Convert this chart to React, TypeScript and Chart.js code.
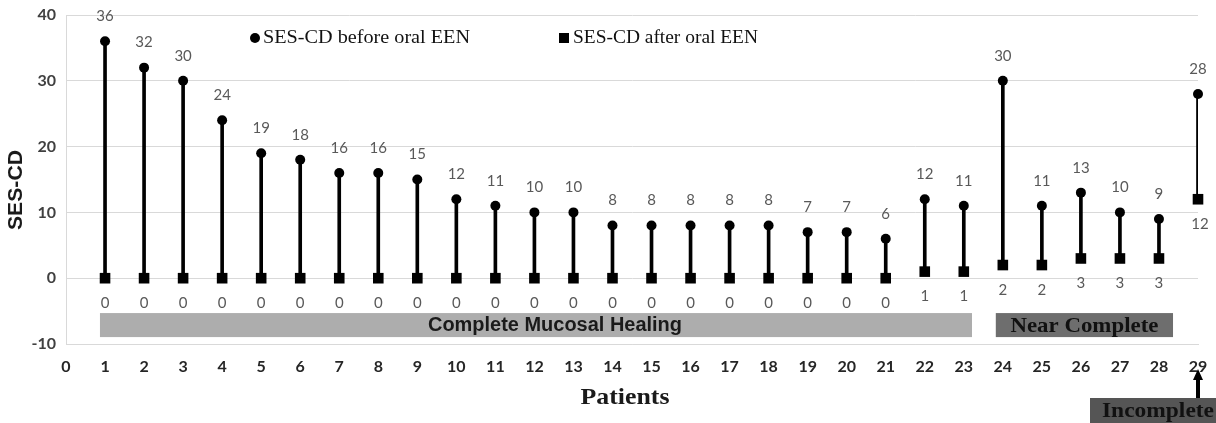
import React, { useEffect, useRef } from "react";
import { Chart, registerables } from "chart.js";

Chart.register(...registerables);

const patients = [1, 2, 3, 4, 5, 6, 7, 8, 9, 10, 11, 12, 13, 14, 15, 16, 17, 18, 19, 20, 21, 22, 23, 24, 25, 26, 27, 28, 29];
const beforeScores = [36, 32, 30, 24, 19, 18, 16, 16, 15, 12, 11, 10, 10, 8, 8, 8, 8, 8, 7, 7, 6, 12, 11, 30, 11, 13, 10, 9, 28];
const afterScores = [0, 0, 0, 0, 0, 0, 0, 0, 0, 0, 0, 0, 0, 0, 0, 0, 0, 0, 0, 0, 0, 1, 1, 2, 2, 3, 3, 3, 12];
const xTickValues = [0, 1, 2, 3, 4, 5, 6, 7, 8, 9, 10, 11, 12, 13, 14, 15, 16, 17, 18, 19, 20, 21, 22, 23, 24, 25, 26, 27, 28, 29];
const yTickValues = [-10, 0, 10, 20, 30, 40];
const seriesNames = ["SES-CD before oral EEN", "SES-CD after oral EEN"];
const groupNames = ["Complete Mucosal Healing", "Near Complete", "Incomplete"];
const axisTitles = { x: "Patients", y: "SES-CD" };

function fitText(ctx: CanvasRenderingContext2D, text: string, cx: number, cy: number, width: number) {
  const w = ctx.measureText(text).width;
  ctx.save();
  ctx.translate(cx, cy);
  ctx.scale(width / w, 1);
  ctx.textAlign = "center";
  ctx.textBaseline = "middle";
  ctx.fillText(text, 0, 0);
  ctx.restore();
}

const overlayPlugin = {
  id: "overlay",
  afterDatasetsDraw(chart: any) {
    const ctx: CanvasRenderingContext2D = chart.ctx;
    const xs = chart.scales.x;
    const ys = chart.scales.y;
    ctx.save();

    // value labels
    ctx.fillStyle = "#595959";
    ctx.font = "15px Lato";
    ctx.textAlign = "center";
    ctx.textBaseline = "middle";
    const mb = chart.getDatasetMeta(1);
    const ma = chart.getDatasetMeta(2);
    beforeScores.forEach((v, i) => {
      const el = mb.data[i];
      ctx.fillText(String(v), el.x, el.y - 25);
    });
    afterScores.forEach((v, i) => {
      const el = ma.data[i];
      ctx.fillText(String(v), el.x + (i === afterScores.length - 1 ? 2 : 0), el.y + 25);
    });

    // group bands (in data units)
    const band = (x0: number, x1: number, y0: number, y1: number, color: string) => {
      const px0 = xs.getPixelForValue(x0);
      const px1 = xs.getPixelForValue(x1);
      const py0 = ys.getPixelForValue(y0);
      const py1 = ys.getPixelForValue(y1);
      ctx.fillStyle = color;
      ctx.fillRect(px0, py0, px1 - px0, py1 - py0);
      return { px0, px1, py0, py1 };
    };
    const b1 = band(0.87, 23.21, -5.3, -8.95, "#adadad");
    ctx.fillStyle = "#1a1a1a";
    ctx.font = "bold 20px 'Liberation Sans'";
    fitText(ctx, groupNames[0], 555, (b1.py0 + b1.py1) / 2, 254);

    const b2 = band(23.82, 28.36, -5.3, -8.95, "#6e6e6e");
    ctx.fillStyle = "#111111";
    ctx.font = "bold 21px 'Liberation Serif'";
    fitText(ctx, groupNames[1], (b2.px0 + b2.px1) / 2, (b2.py0 + b2.py1) / 2 + 1, 148);

    // Incomplete box + arrow
    const x29 = xs.getPixelForValue(29);
    ctx.fillStyle = "#555555";
    ctx.fillRect(1090, 398, 130, 26);
    ctx.fillStyle = "#111111";
    ctx.font = "bold 21px 'Liberation Serif'";
    fitText(ctx, groupNames[2], 1158, 412, 112);
    ctx.strokeStyle = "#000";
    ctx.lineWidth = 4;
    ctx.beginPath();
    ctx.moveTo(x29, 398);
    ctx.lineTo(x29, 378);
    ctx.stroke();
    ctx.fillStyle = "#000";
    ctx.beginPath();
    ctx.moveTo(x29, 369);
    ctx.lineTo(x29 - 5, 380);
    ctx.lineTo(x29 + 5, 380);
    ctx.closePath();
    ctx.fill();

    // legend
    ctx.fillStyle = "#000";
    ctx.beginPath();
    ctx.arc(255, 38, 5, 0, Math.PI * 2);
    ctx.fill();
    ctx.fillRect(559, 33, 10, 10);
    ctx.font = "19px 'Liberation Serif'";
    ctx.fillStyle = "#111";
    fitText(ctx, seriesNames[0], (263 + 470) / 2, 38, 207);
    fitText(ctx, seriesNames[1], (573 + 758) / 2, 38, 185);

    // axis titles
    ctx.fillStyle = "#1a1a1a";
    ctx.font = "bold 23px 'Liberation Serif'";
    fitText(ctx, axisTitles.x, 625, 398, 89);
    ctx.save();
    ctx.translate(16, 190);
    ctx.rotate(-Math.PI / 2);
    ctx.font = "bold 21px 'Liberation Sans'";
    fitText(ctx, axisTitles.y, 0, 0, 80);
    ctx.restore();

    ctx.restore();
  },
};

export default function App() {
  const ref = useRef<HTMLCanvasElement | null>(null);
  useEffect(() => {
    if (!ref.current) return;
    const chart = new Chart(ref.current, {
      type: "bar",
      data: {
        datasets: [
          {
            type: "bar",
            label: "stem",
            data: patients.map((p, i) => ({ x: p, y: [afterScores[i], beforeScores[i]] })) as any,
            backgroundColor: "#000",
            barThickness: 3,
            order: 3,
          },
          {
            type: "scatter",
            label: seriesNames[0],
            data: patients.map((p, i) => ({ x: p, y: beforeScores[i] })),
            backgroundColor: "#000",
            borderColor: "#000",
            pointStyle: "circle",
            pointRadius: 5,
            borderWidth: 0,
            clip: false as any,
            order: 2,
          },
          {
            type: "scatter",
            label: seriesNames[1],
            data: patients.map((p, i) => ({ x: p, y: afterScores[i] })),
            backgroundColor: "#000",
            borderColor: "#000",
            pointStyle: "rect",
            pointRadius: 7.5,
            borderWidth: 0,
            clip: false as any,
            order: 1,
          },
        ],
      },
      options: {
        responsive: false,
        animation: false,
        layout: { padding: { left: 0, right: 18, top: 15, bottom: 0 } },
        plugins: { legend: { display: false }, tooltip: { enabled: false } },
        scales: {
          x: {
            type: "linear",
            offset: false,
            min: 0,
            max: 29,
            afterFit: (s: any) => {
              s.height = 79;
              s.paddingLeft = 0; s.paddingRight = 0; s.paddingTop = 0; s.paddingBottom = 0;
            },
            afterBuildTicks: (s: any) => { s.ticks = xTickValues.map((v) => ({ value: v })); },
            grid: { display: false, drawTicks: false, offset: false },
            border: { display: true, color: "#d9d9d9", width: 1 },
            ticks: {
              autoSkip: false,
              maxRotation: 0,
              padding: 13,
              color: "#262626",
              font: { family: "Lato", weight: "bold", size: 16 },
            },
          },
          y: {
            type: "linear",
            min: -10,
            max: 40,
            afterFit: (s: any) => {
              s.width = 66;
              s.paddingLeft = 0; s.paddingRight = 0; s.paddingTop = 0; s.paddingBottom = 0;
            },
            afterBuildTicks: (s: any) => { s.ticks = yTickValues.map((v) => ({ value: v })); },
            grid: { color: "#d9d9d9", lineWidth: 1, drawTicks: false },
            border: { display: true, color: "#d9d9d9", width: 1 },
            ticks: {
              padding: 10,
              color: "#404040",
              font: { family: "Lato", weight: "bold", size: 16 },
            },
          },
        },
      } as any,
      plugins: [overlayPlugin],
    });
    return () => chart.destroy();
  }, []);
  return (
    <div style={{ position: "absolute", left: 0, top: 0, width: 1216, height: 423, background: "#fff" }}>
      <canvas ref={ref} width={1216} height={423} style={{ display: "block" }} />
    </div>
  );
}
